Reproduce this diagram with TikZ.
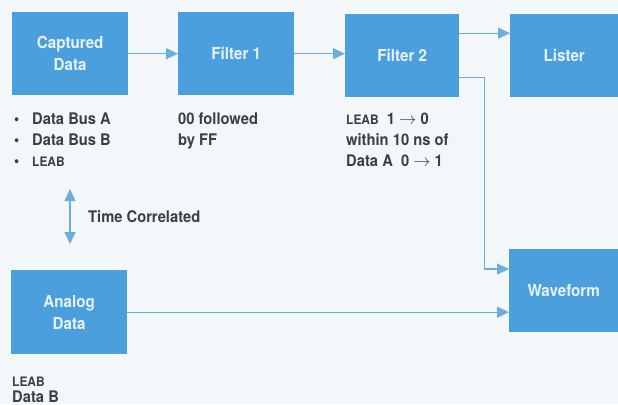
\documentclass[tikz,border=0pt]{standalone}
\usepackage{fontspec}
\setmainfont{TeX Gyre Heros}[FakeStretch=0.92]
\usetikzlibrary{arrows.meta, calc}

\definecolor{boxblue}{HTML}{4A9FDC}
\definecolor{lineblue}{HTML}{6CADDB}
\definecolor{paper}{HTML}{F3F7F9}
\definecolor{ink}{HTML}{3A3F45}
\definecolor{boxtext}{HTML}{E8F2FA}

\newcommand{\leab}{{\fontsize{13}{14}\selectfont LEAB}}

\begin{document}
\begin{tikzpicture}[
        x=1pt, y=-1pt,
        font=\bfseries\fontsize{16}{22}\selectfont,
        block/.style={
            fill=boxblue,
            text=boxtext,
            align=center,
            anchor=north west,
            inner sep=0pt,
            minimum width=116pt,
            minimum height=83pt,
            font=\bfseries\fontsize{16.5}{22}\selectfont
        },
        note/.style={
            anchor=base west,
            inner sep=0pt,
            text=ink
        },
        arrow/.style={
            draw=lineblue,
            line width=1.2pt,
            -{Triangle[length=12pt, width=11pt]}
        },
        dblarrow/.style={
            arrow,
            {Triangle[length=12pt, width=11pt]}-{Triangle[length=12pt, width=11pt]}
        }
    ]

    \fill[paper] (0,0) rectangle (618,404);
    \useasboundingbox (0,0) rectangle (618,404);

    % blocks
    \node[block] (cap) at (12,12) {Captured\\Data};
    \node[block] (filt1) at (178,12) {Filter 1};
    \node[block, minimum width=114pt] (filt2) at (345,14) {Filter 2};
    \node[block, minimum width=108pt] (lister) at (510,14) {Lister};
    \node[block, minimum width=109pt] (wave) at (509,249) {Waveform};
    \node[block, minimum height=84pt] (analog) at (11,270) {Analog\\Data};

    % notes under the blocks
    \node[note] (bulA) at (14,124) {\textbullet};
    \node[note] (busA) at (32,124) {Data Bus A};
    \node[note] (bulB) at (14,145) {\textbullet};
    \node[note] (busB) at (32,145) {Data Bus B};
    \node[note] (bulC) at (14,166) {\textbullet};
    \node[note] (leabA) at (32,166) {\leab};

    \node[note] (ffA) at (178,124) {00 followed};
    \node[note] (ffB) at (178,145) {by FF};

    \node[note] (edgeA) at (346,124) {\leab\ \ 1 $\rightarrow$ 0};
    \node[note] (edgeB) at (346,145) {within 10 ns of};
    \node[note] (edgeC) at (346,166) {Data A\ \ 0 $\rightarrow$ 1};

    \node[note] (leabB) at (12,386) {\leab};
    \node[note] (dataB) at (12,402) {Data B};

    % time correlation
    \coordinate (tcTop) at (70,189);
    \coordinate (tcBot) at (70,244);
    \draw[dblarrow] (tcTop) -- (tcBot);
    \node[note] (tcText) at (88,222) {Time Correlated};

    % connectors
    \coordinate (f2up) at ($(filt2.north east)!0.23!(filt2.south east)$);
    \coordinate (f2down) at ($(filt2.north east)!0.76!(filt2.south east)$);
    \coordinate (wvup) at ($(wave.north west)!0.24!(wave.south west)$);

    \draw[arrow] (cap.east) -- (cap.east -| filt1.west);
    \draw[arrow] (filt1.east) -- (filt1.east -| filt2.west);
    \draw[arrow] (f2up) -- (f2up -| lister.west);
    \draw[arrow] (f2down) -- ++(25,0) |- (wvup);
    \draw[arrow] (analog.east) -- (analog.east -| wave.west);

\end{tikzpicture}
\end{document}
